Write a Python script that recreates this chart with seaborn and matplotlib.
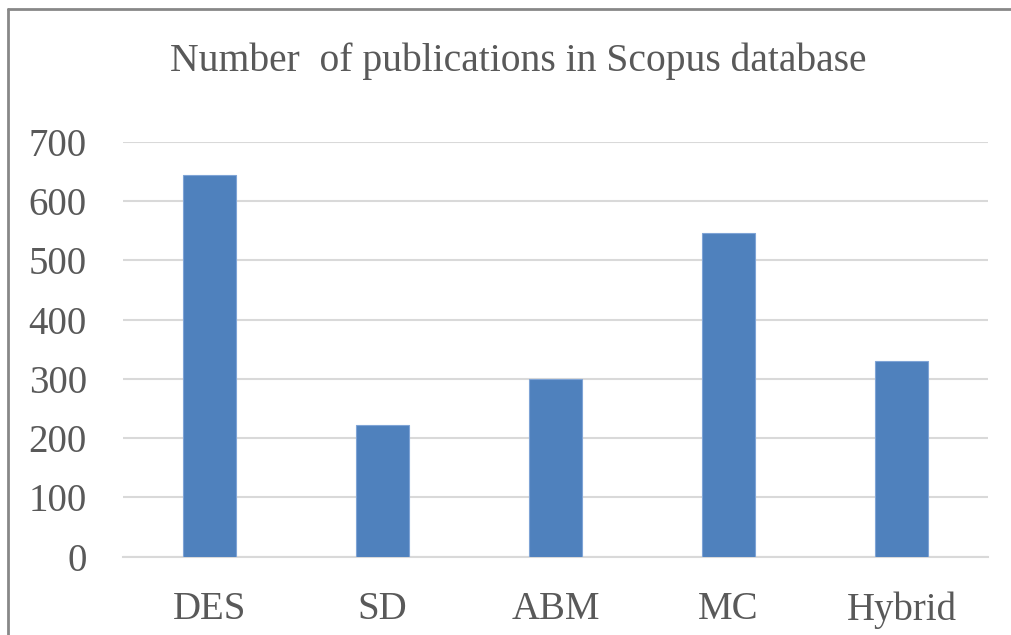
import matplotlib
matplotlib.use("Agg")
import matplotlib.pyplot as plt
import seaborn as sns
import pandas as pd
from matplotlib.lines import Line2D

# Data
methods = ["DES", "SD", "ABM", "MC", "Hybrid"]
publications = [645, 222, 300, 547, 330]

df = pd.DataFrame({"method": methods, "count": publications})

sns.set_style("white")
plt.rcParams["font.family"] = ["Liberation Serif", "DejaVu Serif"]

text_color = "#595959"
bar_color = "#4F81BD"

fig = plt.figure(figsize=(10.11, 6.35), dpi=100)
ax = fig.add_axes([123 / 1011, 1 - 556.7 / 635, (988 - 123) / 1011, (556.7 - 142) / 635])

sns.barplot(data=df, x="method", y="count", color=bar_color, width=0.31,
            edgecolor="#7FA4D6", linewidth=0.8, saturation=1, ax=ax, zorder=3)

ax.set_ylim(0, 700)
ax.set_yticks(range(0, 701, 100))
ax.set_xlim(-0.5, len(methods) - 0.5)
ax.grid(axis="y", color="#D9D9D9", linewidth=1.5, zorder=0)
ax.set_axisbelow(True)
for s in ["top", "right", "left"]:
    ax.spines[s].set_visible(False)
ax.spines["bottom"].set_color("#D9D9D9")
ax.spines["bottom"].set_linewidth(1.5)

ax.set_xlabel("")
ax.set_ylabel("")
ax.tick_params(axis="both", length=0, labelsize=28, labelcolor=text_color)
ax.tick_params(axis="x", pad=25)
ax.tick_params(axis="y", pad=26)

fig.text(518 / 1011, 1 - 61 / 635, "Number  of publications in Scopus database",
         ha="center", va="center", fontsize=28.5, color=text_color)

# outer chart frame (only top and left edges visible)
fig.add_artist(Line2D([8 / 1011, 1.0], [1 - 9 / 635, 1 - 9 / 635],
                      color="#888888", linewidth=2, transform=fig.transFigure))
fig.add_artist(Line2D([8 / 1011, 8 / 1011], [0, 1 - 9 / 635],
                      color="#888888", linewidth=2, transform=fig.transFigure))

fig.savefig("out.png", dpi=100)
